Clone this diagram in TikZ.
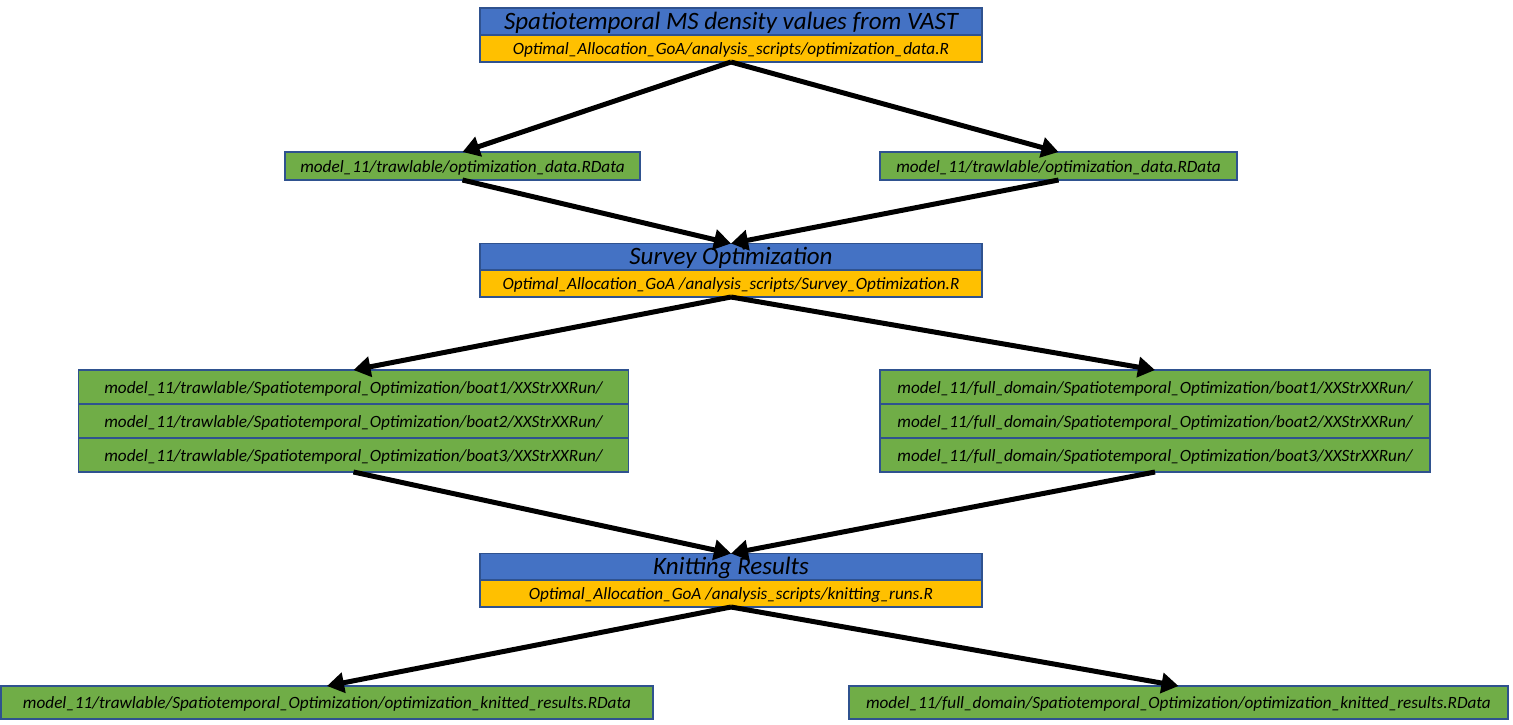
\documentclass[tikz,border=0pt]{standalone}
\usepackage{fontspec}
\setmainfont{Carlito}
\usetikzlibrary{arrows.meta}
\definecolor{hdrblue}{HTML}{4472C4}
\definecolor{scriptgold}{HTML}{FFC000}
\definecolor{filegreen}{HTML}{70AD47}
\definecolor{edgeblue}{HTML}{2F528F}
\tikzset{
  box/.style={draw=edgeblue, line width=1.5pt, inner sep=0pt, outer sep=0pt, align=center},
  smalltext/.style={font=\fontsize{17.2}{19}\selectfont\itshape, text height=12pt, text depth=0pt},
  title/.style={box, fill=hdrblue, minimum width=502pt, minimum height=27pt,
    font=\fontsize{25}{27}\selectfont\itshape, text height=15pt, text depth=0pt},
  script/.style={box, smalltext, fill=scriptgold, minimum width=502pt, minimum height=27pt},
  file/.style={box, smalltext, fill=filegreen, minimum height=28pt},
  row/.style={box, smalltext, fill=filegreen, minimum width=550pt, minimum height=34pt},
  flow/.style={line width=5pt, -{Triangle[length=17pt,width=20pt]}}
}
\begin{document}
\begin{tikzpicture}[x=1pt,y=-1pt]
\useasboundingbox (0,0) rectangle (1513,724);

% data preparation step
\node[title]  (vastT) at (731,21.5) {Spatiotemporal MS density values from VAST};
\node[script] (vastS) at (731,48.5) {Optimal\_Allocation\_GoA/analysis\_scripts/optimization\_data.R};

% prepared data files
\node[file, minimum width=355pt] (dataL) at (462.5,166) {model\_11/trawlable/optimization\_data.RData};
\node[file, minimum width=357pt] (dataR) at (1058.5,166) {model\_11/trawlable/optimization\_data.RData};

% optimization step
\node[title]  (optT) at (731,257) {Survey Optimization};
\node[script] (optS) at (731,283.5) {Optimal\_Allocation\_GoA /analysis\_scripts/Survey\_Optimization.R};

% per-boat run folders, trawlable domain
\node[row] (runL1) at (353.5,387) {model\_11/trawlable/Spatiotemporal\_Optimization/boat1/XXStrXXRun/};
\node[row] (runL2) at (353.5,421) {model\_11/trawlable/Spatiotemporal\_Optimization/boat2/XXStrXXRun/};
\node[row] (runL3) at (353.5,455) {model\_11/trawlable/Spatiotemporal\_Optimization/boat3/XXStrXXRun/};

% per-boat run folders, full domain
\node[row] (runR1) at (1155,387) {model\_11/full\_domain/Spatiotemporal\_Optimization/boat1/XXStrXXRun/};
\node[row] (runR2) at (1155,421) {model\_11/full\_domain/Spatiotemporal\_Optimization/boat2/XXStrXXRun/};
\node[row] (runR3) at (1155,455) {model\_11/full\_domain/Spatiotemporal\_Optimization/boat3/XXStrXXRun/};

% knitting step
\node[title]  (knitT) at (731,567) {Knitting Results};
\node[script] (knitS) at (731,593.5) {Optimal\_Allocation\_GoA /analysis\_scripts/knitting\_runs.R};

% knitted results
\node[file, minimum width=652pt, minimum height=33pt] (resL) at (327,702.5) {model\_11/trawlable/Spatiotemporal\_Optimization/optimization\_knitted\_results.RData};
\node[file, minimum width=659pt, minimum height=33pt] (resR) at (1178.5,702.5) {model\_11/full\_domain/Spatiotemporal\_Optimization/optimization\_knitted\_results.RData};

% connectors
\draw[flow] (vastS.south) -- (dataL.north);
\draw[flow] (vastS.south) -- (dataR.north);
\draw[flow] (dataL.south) -- (optT.north);
\draw[flow] (dataR.south) -- (optT.north);
\draw[flow] (optS.south) -- (runL1.north);
\draw[flow] (optS.south) -- (runR1.north);
\draw[flow] (runL3.south) -- (knitT.north);
\draw[flow] (runR3.south) -- (knitT.north);
\draw[flow] (knitS.south) -- (resL.north);
\draw[flow] (knitS.south) -- (resR.north);
\end{tikzpicture}
\end{document}
